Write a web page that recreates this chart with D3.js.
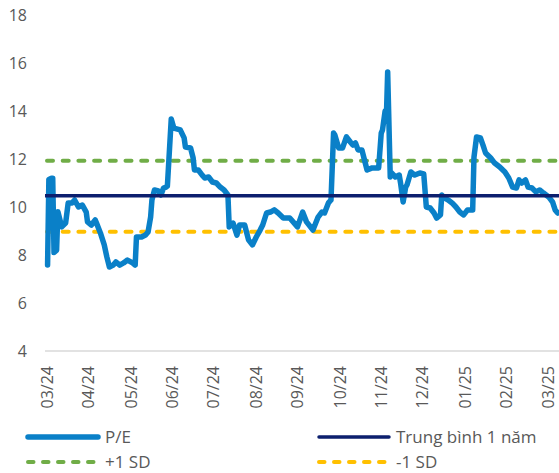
<!DOCTYPE html>
<html>
<head>
<meta charset="utf-8">
<script src="https://cdn.jsdelivr.net/npm/d3@7"></script>
<style>
  body { margin: 0; background: #fff; }
  text { font-family: "Open Sans", sans-serif; fill: #595959; }
</style>
</head>
<body>
<div id="chart"></div>
<script>
// data
var dates = ["2024-03-04","2024-03-05","2024-03-07","2024-03-08","2024-03-09","2024-03-11","2024-03-12","2024-03-15","2024-03-18","2024-03-20",
  "2024-03-23","2024-03-25","2024-03-28","2024-03-31","2024-04-03","2024-04-04","2024-04-07","2024-04-10","2024-04-11","2024-04-14",
  "2024-04-17","2024-04-19","2024-04-21","2024-04-24","2024-04-26","2024-04-29","2024-05-02","2024-05-05","2024-05-09","2024-05-11",
  "2024-05-12","2024-05-16","2024-05-19","2024-05-21","2024-05-23","2024-05-24","2024-05-26","2024-05-29","2024-05-31","2024-06-02",
  "2024-06-04","2024-06-05","2024-06-08","2024-06-10","2024-06-15","2024-06-18","2024-06-19","2024-06-23","2024-06-25","2024-06-26",
  "2024-06-29","2024-07-02","2024-07-04","2024-07-07","2024-07-10","2024-07-13","2024-07-16","2024-07-19","2024-07-22","2024-07-23",
  "2024-07-26","2024-07-29","2024-07-31","2024-08-04","2024-08-07","2024-08-10","2024-08-13","2024-08-16","2024-08-18","2024-08-21",
  "2024-08-24","2024-08-27","2024-08-30","2024-09-03","2024-09-08","2024-09-14","2024-09-18","2024-09-21","2024-09-26","2024-09-30",
  "2024-10-03","2024-10-05","2024-10-08","2024-10-10","2024-10-12","2024-10-13","2024-10-16","2024-10-19","2024-10-22","2024-10-25",
  "2024-10-27","2024-10-29","2024-10-31","2024-11-03","2024-11-05","2024-11-07","2024-11-11","2024-11-16","2024-11-18","2024-11-19",
  "2024-11-21","2024-11-22","2024-11-23","2024-11-25","2024-11-26","2024-11-29","2024-12-02","2024-12-03","2024-12-05","2024-12-07",
  "2024-12-08","2024-12-11","2024-12-14","2024-12-18","2024-12-21","2024-12-23","2024-12-26","2024-12-29","2024-12-31","2025-01-03",
  "2025-01-04","2025-01-06","2025-01-09","2025-01-12","2025-01-15","2025-01-18","2025-01-21","2025-01-24","2025-01-28","2025-01-29",
  "2025-01-31","2025-02-03","2025-02-05","2025-02-07","2025-02-11","2025-02-14","2025-02-18","2025-02-22","2025-02-25","2025-02-28",
  "2025-03-03","2025-03-05","2025-03-07","2025-03-10","2025-03-12","2025-03-15","2025-03-18","2025-03-21","2025-03-24","2025-03-28",
  "2025-03-31","2025-04-02","2025-04-04"];

var pe = [7.58,11.15,11.2,11.2,8.1,8.2,9.8,9.17,9.33,10.17,
  10.17,10.29,10.0,10.08,9.79,9.38,9.25,9.46,9.33,8.92,
  8.42,7.92,7.5,7.58,7.71,7.58,7.67,7.79,7.67,7.58,
  8.75,8.75,8.83,8.96,9.58,10.29,10.71,10.67,10.5,10.79,
  10.83,10.87,13.67,13.29,13.21,12.88,12.5,12.46,12.04,11.54,
  11.54,11.33,11.21,11.25,11.04,11.0,10.83,10.71,10.5,9.17,
  9.33,8.83,9.25,9.25,8.63,8.42,8.75,9.04,9.25,9.75,
  9.79,9.88,9.75,9.54,9.54,9.17,9.79,9.38,9.04,9.58,
  9.79,9.75,10.17,10.29,13.08,13.0,12.46,12.46,12.92,12.71,
  12.58,12.67,12.38,12.38,11.96,11.54,11.63,11.63,13.08,13.21,
  14.0,13.75,15.63,11.25,11.42,11.25,11.33,11.0,10.21,10.83,
  10.92,11.46,11.33,11.42,11.38,10.0,9.96,9.75,9.54,9.67,
  10.5,10.38,10.29,10.17,10.0,9.79,9.67,9.88,9.88,12.08,
  12.92,12.88,12.58,12.25,12.04,11.83,11.67,11.46,11.21,10.83,
  10.79,11.13,11.0,11.13,10.83,10.79,10.63,10.71,10.58,10.42,
  10.21,9.88,9.75];

var mean = 10.47;
var plusSD = 11.93;
var minusSD = 8.97;

var yTicks = [4, 6, 8, 10, 12, 14, 16, 18];
// dates where the category axis puts a label (every ~22 sessions)
var labelDates = ["2024-03-04","2024-04-05","2024-05-08","2024-06-09","2024-07-11","2024-08-13","2024-09-14",
  "2024-10-17","2024-11-18","2024-12-20","2025-01-22","2025-02-23","2025-03-28"];

var legendNames = ["P/E", "Trung bình 1 năm", "+1 SD", "-1 SD"];

var svgWidth = 559;
var svgHeight = 473;

var parse = d3.timeParse("%Y-%m-%d");
var data = dates.map((d, i) => ({date: parse(d), value: pe[i]}));

var svg = d3.select("#chart")
  .append("svg")
  .attr("width", svgWidth)
  .attr("height", svgHeight);

// scales
var xScale = d3.scaleTime()
  .domain([parse("2024-03-02"), parse("2025-04-05")])
  .range([45, 559]);

var yScale = d3.scaleLinear()
  .domain([4, 18])
  .range([351, 15]);

// y tick labels
svg.append("g")
  .selectAll("text")
  .data(yTicks)
  .enter()
  .append("text")
  .attr("x", 27)
  .attr("y", d => yScale(d))
  .attr("dy", "0.35em")
  .attr("text-anchor", "end")
  .attr("font-size", "16px")
  .text(d => d);

// x axis line
svg.append("line")
  .attr("x1", 45)
  .attr("x2", 559)
  .attr("y1", yScale(4))
  .attr("y2", yScale(4))
  .attr("stroke", "#d9d9d9")
  .attr("stroke-width", 1.5);

// x tick labels, rotated
var fmt = d3.timeFormat("%m/%y");
svg.append("g")
  .selectAll("text")
  .data(labelDates.map(parse))
  .enter()
  .append("text")
  .attr("transform", d => `translate(${xScale(d)}, 366)rotate(-90)`)
  .attr("dy", "0.35em")
  .attr("text-anchor", "end")
  .attr("font-size", "16px")
  .text(d => fmt(d));

// dashed SD lines
var refLines = [
  {v: minusSD, color: "#ffc000"},
  {v: plusSD, color: "#70ad47"}
];

svg.append("g")
  .selectAll("line")
  .data(refLines)
  .enter()
  .append("line")
  .attr("x1", 47)
  .attr("x2", 559)
  .attr("y1", d => yScale(d.v))
  .attr("y2", d => yScale(d.v))
  .attr("stroke", d => d.color)
  .attr("stroke-width", 4)
  .attr("stroke-dasharray", "6,9.7")
  .attr("stroke-linecap", "round");

// P/E line
var line = d3.line()
  .x(d => xScale(d.date))
  .y(d => yScale(d.value));

svg.append("path")
  .datum(data)
  .attr("d", line)
  .attr("fill", "none")
  .attr("stroke", "#0a80c8")
  .attr("stroke-width", 5.5)
  .attr("stroke-linejoin", "round")
  .attr("stroke-linecap", "round");

// 1-year mean, drawn over P/E like the original
svg.append("line")
  .attr("x1", 45)
  .attr("x2", 559)
  .attr("y1", yScale(mean))
  .attr("y2", yScale(mean))
  .attr("stroke", "#0c1f6e")
  .attr("stroke-width", 3.5);

// legend
var legend = [
  {name: legendNames[0], color: "#0a80c8", dash: null, w: 5.5, x: 28, y: 437},
  {name: legendNames[1], color: "#0c1f6e", dash: null, w: 3.5, x: 319, y: 437},
  {name: legendNames[2], color: "#70ad47", dash: "5.5,9.5", w: 4, x: 28, y: 462},
  {name: legendNames[3], color: "#ffc000", dash: "5.5,9.5", w: 4, x: 319, y: 462}
];

var lg = svg.append("g")
  .selectAll("g")
  .data(legend)
  .enter()
  .append("g")
  .attr("transform", d => `translate(${d.x}, ${d.y})`);

lg.append("line")
  .attr("x1", 0)
  .attr("x2", 70)
  .attr("stroke", d => d.color)
  .attr("stroke-width", d => d.w)
  .attr("stroke-dasharray", d => d.dash)
  .attr("stroke-linecap", "round");

lg.append("text")
  .attr("x", 77)
  .attr("dy", "0.35em")
  .attr("font-size", "17px")
  .text(d => d.name);
</script>
</body>
</html>
